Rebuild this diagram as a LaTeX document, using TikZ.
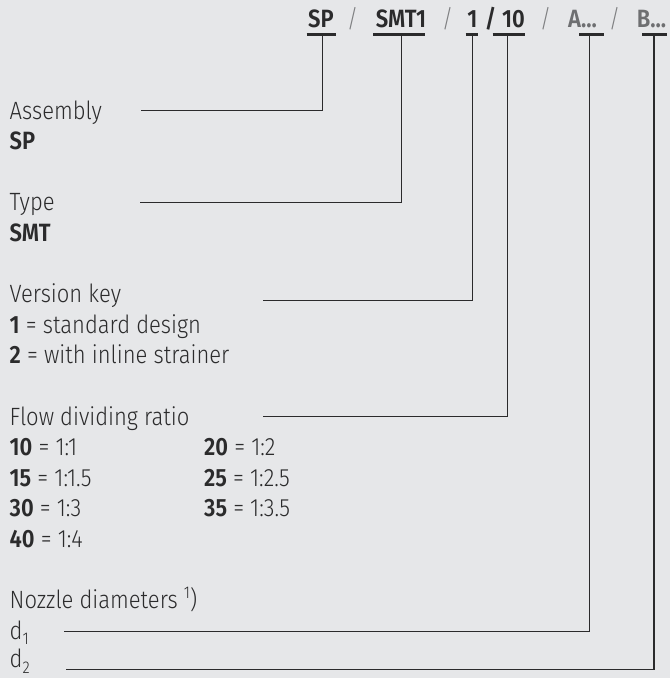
\documentclass[tikz,border=0pt]{standalone}
\usepackage{fontspec}
\setmainfont{Fira Sans Light}[BoldFont={Fira Sans SemiBold}, FakeStretch=0.88]
\definecolor{bg}{HTML}{E6E7E9}
\definecolor{ink}{HTML}{2B2B2C}
\definecolor{soft}{HTML}{6E6F71}
\definecolor{slash}{HTML}{7E7F81}
\newcommand{\lowidx}[1]{\raisebox{-0.22em}{\fontsize{17}{17}\selectfont #1}}
\newcommand{\highidx}[1]{\raisebox{0.40em}{\fontsize{17}{17}\selectfont #1}}
\begin{document}
\begin{tikzpicture}[x=1pt,y=-1pt,
  every node/.style={inner sep=0pt, font=\fontsize{25}{30}\selectfont},
  txt/.style={anchor=base west, text=ink},
  hd/.style={anchor=base, text=ink, font=\fontsize{25}{30}\selectfont\bfseries},
  hdsoft/.style={anchor=base, text=soft, font=\fontsize{25}{30}\selectfont\bfseries},
  sl/.style={anchor=base, text=slash},
  lead/.style={draw=ink, line width=1.2pt},
  uline/.style={draw=ink, line width=2.4pt},
]
\fill[bg] (0,0) rectangle (670,678);
\useasboundingbox (0,0) rectangle (670,678);

% order code
\node[hd] (hSP) at (321,27) {SP};
\node[sl] (s1) at (352.5,27) {/};
\node[hd] (hSMT) at (401,27) {SMT1};
\node[sl] (s2) at (447.5,27) {/};
\node[hd] (hOne) at (472.5,27) {1};
\node[hd] (s3) at (490.5,27) {/};
\node[hd] (hTen) at (513.5,27) {10};
\node[sl] (s4) at (545.5,27) {/};
\node[hdsoft] (hA) at (582.5,27) {A...};
\node[sl] (s5) at (614.5,27) {/};
\node[hdsoft] (hB) at (651.5,27) {B...};

% underlines
\draw[uline] (306.7,34.3) -- (335.7,34.3);
\draw[uline] (373,34.3) -- (425,34.3);
\draw[uline] (465.7,34.3) -- (478,34.3);
\draw[uline] (492.7,34.3) -- (525,34.3);
\draw[uline] (579,34.3) -- (604,34.3);
\draw[uline] (642,34.3) -- (667,34.3);

% connection points under the code
\coordinate (kSP) at (322.3,34.3);
\coordinate (kSMT) at (401.7,34.3);
\coordinate (kOne) at (472.7,34.3);
\coordinate (kTen) at (507.7,34.3);
\coordinate (kA) at (589.3,34.3);
\coordinate (kB) at (654,34.3);

% descriptions
\node[txt] (asm) at (9.5,119) {Assembly};
\node[txt] (asmv) at (9.5,149.6) {\bfseries SP};
\node[txt] (typ) at (9.5,210.8) {Type};
\node[txt] (typv) at (9.5,241.4) {\bfseries SMT};
\node[txt] (ver) at (9.5,302.6) {Version key};
\node[txt] (ver1) at (9.5,333.2) {\textbf{1} = standard design};
\node[txt] (ver2) at (9.5,363.8) {\textbf{2} = with inline strainer};
\node[txt] (flow) at (9.5,425) {Flow dividing ratio};
\node[txt] (f10) at (9.5,455.6) {\textbf{10} = 1:1};
\node[txt] (f15) at (9.5,486.2) {\textbf{15} = 1:1.5};
\node[txt] (f30) at (9.5,516.8) {\textbf{30} = 1:3};
\node[txt] (f40) at (9.5,547.4) {\textbf{40} = 1:4};
\node[txt] (f20) at (204,455.6) {\textbf{20} = 1:2};
\node[txt] (f25) at (204,486.2) {\textbf{25} = 1:2.5};
\node[txt] (f35) at (204,516.8) {\textbf{35} = 1:3.5};
\node[txt] (noz) at (9.5,608.6) {Nozzle diameters \highidx{1})};
\node[txt] (d1) at (9.5,639.2) {d\lowidx{1}};
\node[txt] (d2) at (9.5,667.5) {d\lowidx{2}};

% free ends of the leader lines
\coordinate (eAsm) at (140.7,110.7);
\coordinate (eTyp) at (140,202.3);
\coordinate (eVer) at (263,300.5);
\coordinate (eFlow) at (263,416.7);
\coordinate (eD1) at (64,631.7);
\coordinate (eD2) at (66,669.3);

\draw[lead] (kSP) |- (eAsm);
\draw[lead] (kSMT) |- (eTyp);
\draw[lead] (kOne) |- (eVer);
\draw[lead] (kTen) |- (eFlow);
\draw[lead] (kA) |- (eD1);
\draw[lead] (kB) |- (eD2);
\end{tikzpicture}
\end{document}
